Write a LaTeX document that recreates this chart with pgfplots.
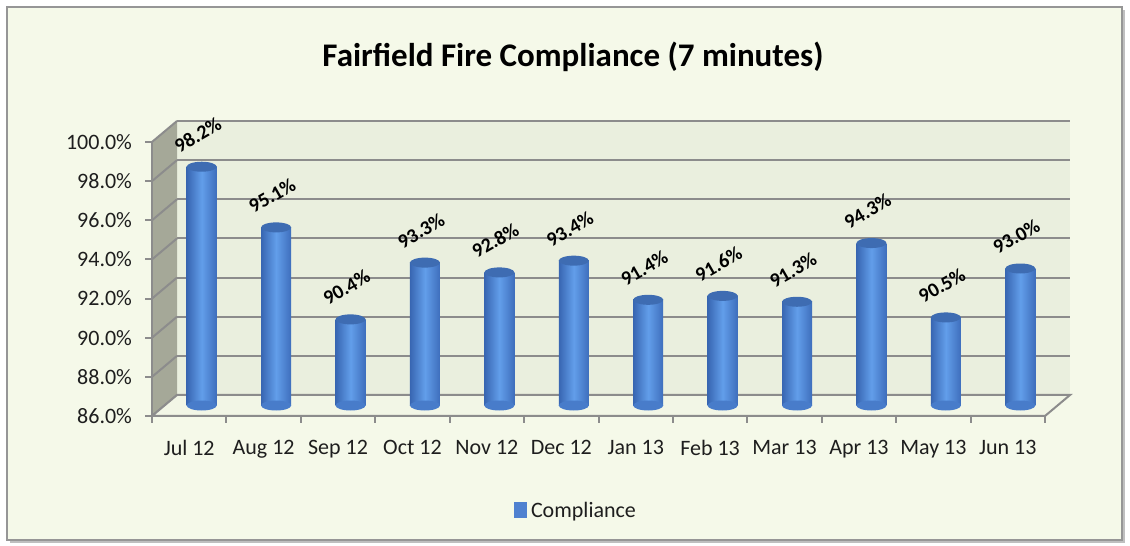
\documentclass[border=0pt]{standalone}
\usepackage{fontspec}
\setmainfont{Carlito}
\usepackage{pgfplots}
\pgfplotsset{compat=1.18}
\usepackage{pgfplotstable}
\definecolor{outerbg}{RGB}{245,249,233}
\definecolor{wall}{RGB}{234,239,222}
\definecolor{sidewall}{RGB}{165,168,152}
\definecolor{floorc}{RGB}{242,246,230}
\definecolor{gridgray}{RGB}{140,140,140}
\definecolor{framegray}{RGB}{150,150,150}
\definecolor{barL}{RGB}{56,102,178}
\definecolor{barM}{RGB}{98,158,234}
\definecolor{barR}{RGB}{62,110,188}
\definecolor{bartop}{RGB}{62,108,178}
\definecolor{barbottom}{RGB}{72,124,202}
\definecolor{legblue}{RGB}{79,129,208}
\definecolor{labelcol}{RGB}{30,30,30}

\pgfplotstableread{
x v
0 98.2
1 95.1
2 90.4
3 93.3
4 92.8
5 93.4
6 91.4
7 91.6
8 91.3
9 94.3
10 90.5
11 93.0
}\data

\pgfdeclareplotmark{cyl}{\pgfpathellipse{\pgfpointorigin}{\pgfpoint{7.5pt}{0pt}}{\pgfpoint{0pt}{2.5pt}}\pgfusepathqfill}

\begin{document}
\begin{tikzpicture}
\useasboundingbox (0,0) rectangle (565pt,273pt);
\fill[white] (0,0) rectangle (565pt,273pt);
\fill[black!25] (5pt,1.5pt) rectangle (562.5pt,268pt);
\fill[outerbg] (3.5pt,3pt) rectangle (561pt,269.5pt);
\draw[framegray, line width=1pt] (3.5pt,3pt) rectangle (561pt,269.5pt);

\node[anchor=base, font=\bfseries\fontsize{16.5}{20}\selectfont] at (286.5pt,239.5pt) {Fairfield Fire Compliance (7 minutes)};

% back wall
\begin{axis}[at={(88.5pt,75.5pt)}, anchor=south west, scale only axis,
  width=446.5pt, height=137pt, xmin=-0.5, xmax=11.5, ymin=86, ymax=100,
  xtick=\empty, ytick={86,88,...,100}, yticklabels={},
  ymajorgrids, grid style={gridgray, line width=1pt},
  axis line style={draw=none}, tick style={draw=none},
  axis background/.style={fill=wall}]
\addplot[draw=none] coordinates {(0,86)};
\end{axis}

% side wall and floor
\fill[sidewall] (76pt,65pt) -- (76pt,202pt) -- (88.5pt,212.5pt) -- (88.5pt,75.5pt) -- cycle;
\foreach \k in {0,...,7} {
  \draw[gridgray, line width=1pt] (76pt,{(65+\k*19.5714)*1pt}) -- (88.5pt,{(75.5+\k*19.5714)*1pt});
}
\filldraw[fill=floorc, draw=gridgray, line width=1pt] (76pt,65pt) -- (522.5pt,65pt) -- (535pt,75.5pt) -- (88.5pt,75.5pt) -- cycle;

% front axis
\begin{axis}[at={(76pt,65pt)}, anchor=south west, scale only axis,
  width=446.5pt, height=137pt, xmin=-0.5, xmax=11.5, ymin=86, ymax=100,
  axis x line=bottom, axis y line=left,
  axis line style={-, draw=gridgray, line width=1pt},
  xtick={-0.5,0.5,...,11.5}, x tick label as interval,
  xticklabels={Jul 12,Aug 12,Sep 12,Oct 12,Nov 12,Dec 12,Jan 13,Feb 13,Mar 13,Apr 13,May 13,Jun 13},
  ytick={86,88,...,100},
  yticklabels={86.0\%,88.0\%,90.0\%,92.0\%,94.0\%,96.0\%,98.0\%,100.0\%},
  tick align=outside, major tick length=3.5pt,
  tick style={draw=gridgray, line width=1pt},
  ticklabel style={font=\fontsize{11}{13}\selectfont, text=labelcol},
  yticklabel style={xshift=-3pt},
  xticklabel style={yshift=-5pt},
  /pgf/number format/assume math mode=true]
\addplot[draw=none] coordinates {(0,86)};
\end{axis}

% bars
\begin{axis}[at={(82.25pt,70.25pt)}, anchor=south west, scale only axis,
  width=446.5pt, height=137pt, xmin=-0.5, xmax=11.5, ymin=0, ymax=14,
  hide axis, clip=false,
  legend style={at={(0.462,-0.385)}, anchor=center, draw=none, fill=none,
    font=\fontsize{11}{13}\selectfont, text=labelcol}]
\addplot[forget plot, only marks, mark=cyl, color=barbottom, mark options={fill=barbottom, draw=none}]
  table[x=x, y expr=0] {\data};
\pgfplotsinvokeforeach{-0.1:0.1, 0.9:1.1, 1.9:2.1, 2.9:3.1, 3.9:4.1, 4.9:5.1, 5.9:6.1, 6.9:7.1, 7.9:8.1, 8.9:9.1, 9.9:10.1, 10.9:11.1}{
\addplot[forget plot, ybar, bar width=15pt, draw=none, shade, shading=axis, shading angle=90,
  left color=barL, right color=barR, middle color=barM,
  restrict x to domain=#1]
  table[x=x, y expr=\thisrow{v}-86] {\data};
}
\addplot[forget plot, only marks, mark=cyl, color=bartop, mark options={fill=bartop, draw=none},
  point meta=explicit,
  nodes near coords={\pgfmathprintnumber[fixed,fixed zerofill,precision=1,assume math mode=true]{\pgfplotspointmeta}\%},
  every node near coord/.style={anchor=center, yshift=16pt, xshift=-2pt, rotate=30,
    font=\bfseries\fontsize{10}{12}\selectfont, text=black}]
  table[x=x, y expr=\thisrow{v}-86, meta=v] {\data};
\addlegendimage{legend image code/.code={\fill[legblue] (0pt,-3.2pt) rectangle (6pt,4.3pt);}}
\addlegendentry{Compliance}
\end{axis}
\end{tikzpicture}
\end{document}
